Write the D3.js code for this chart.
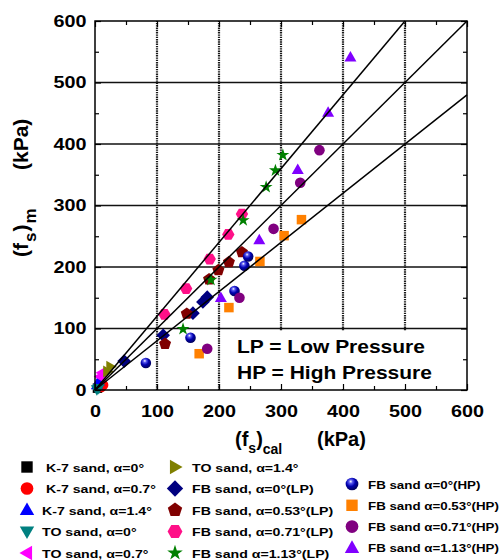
<!DOCTYPE html>
<html><head><meta charset="utf-8">
<script src="https://cdn.jsdelivr.net/npm/d3@7"></script>
<style>
body{margin:0;background:#fff}
text{font-family:"Liberation Sans",Arial,Helvetica,sans-serif;font-weight:bold;fill:#000}
</style>
</head><body>
<svg id="chart" width="504" height="560"></svg>
<script>
// ---------- data ----------
const axisTicks = [0, 100, 200, 300, 400, 500, 600];
const minorTicks = [50, 150, 250, 350, 450, 550];
const gridTicks = [100, 200, 300, 400, 500];
const lineSlopes = [1.2, 1.0, 0.8];

const k7_a0   = [[4, 3]];
const k7_a07  = [[10, 5], [13, 8]];
const k7_a14  = [[3, 8], [6, 14]];
const to_a0   = [[3, 1], [6, 3]];
const to_a07  = [[8, 22], [11, 28]];
const to_a14  = [[20, 30], [25, 38]];
const fbLP_a0   = [[47, 47], [110, 89], [158, 125], [174, 143], [181, 151]];
const fbLP_a053 = [[113, 75], [148, 124], [184, 180], [199, 195], [216, 208], [237, 224]];
const fbLP_a071 = [[112, 123], [147, 165], [185, 213], [215, 253], [237, 286]];
const fbLP_a113 = [[142, 99], [187, 179], [239, 276], [276, 330], [291, 357], [303, 382]];
const fbHP_a0   = [[82, 44], [154, 85], [225, 161], [241, 202], [247, 217]];
const fbHP_a053 = [[168, 59], [216, 134], [266, 209], [305, 251], [333, 277]];
const fbHP_a071 = [[181, 67], [233, 150], [288, 262], [331, 337], [362, 390]];
const fbHP_a113 = [[203, 150], [265, 244], [327, 358], [376, 451], [412, 541]];

const seriesLabels = [
  "K-7 sand, α=0°", "K-7 sand, α=0.7°", "K-7 sand, α=1.4°", "TO sand, α=0°", "TO sand, α=0.7°",
  "TO sand, α=1.4°", "FB sand, α=0°(LP)", "FB sand, α=0.53°(LP)", "FB sand, α=0.71°(LP)", "FB sand α=1.13°(LP)",
  "FB sand α=0°(HP)", "FB sand α=0.53°(HP)", "FB sand α=0.71°(HP)", "FB sand α=1.13°(HP)"
];
const seriesData = [k7_a0, k7_a07, k7_a14, to_a0, to_a07, to_a14,
  fbLP_a0, fbLP_a053, fbLP_a071, fbLP_a113, fbHP_a0, fbHP_a053, fbHP_a071, fbHP_a113];
const seriesShapes = ["square", "circle", "triUp", "triDown", "triLeft", "triRight",
  "diamond", "pentagon", "hexagon", "star", "sphere", "square", "circle", "triUp"];
const seriesColors = ["#000000", "#ff0000", "#0000ff", "#008080", "#ff00ff", "#808000",
  "#000080", "#800000", "#ff1088", "#008000", "#0000a0", "#ff8000", "#800080", "#8000ff"];

const notes = ["LP = Low Pressure", "HP = High Pressure"];

// ---------- layout ----------
const svg = d3.select("#chart");
const X0 = 95, X1 = 467, Y0 = 390, Y1 = 21;
const x = d3.scaleLinear().domain([0, 600]).range([X0, X1]);
const y = d3.scaleLinear().domain([0, 600]).range([Y0, Y1]);
const SX = 1.2; // horizontal text stretch of the original

function txt(parent, px, py, s, size, anchor = "start", sx = SX) {
  return parent.append("text")
    .attr("transform", `translate(${px},${py}) scale(${sx},1)`)
    .attr("font-size", size).attr("text-anchor", anchor).text(s);
}

const defs = svg.append("defs");
const grad = defs.append("radialGradient").attr("id", "sph")
  .attr("cx", "0.4").attr("cy", "0.35").attr("r", "0.65").attr("fx", "0.4").attr("fy", "0.3");
grad.append("stop").attr("offset", "0").attr("stop-color", "#ffffff");
grad.append("stop").attr("offset", "0.22").attr("stop-color", "#5a5af0");
grad.append("stop").attr("offset", "0.55").attr("stop-color", "#0000b0");
grad.append("stop").attr("offset", "1").attr("stop-color", "#00005a");

// grid
const grid = svg.append("g");
grid.selectAll("line.h").data(gridTicks).join("line")
  .attr("x1", X0).attr("x2", X1).attr("y1", d => y(d)).attr("y2", d => y(d))
  .attr("stroke", "#111").attr("stroke-width", 1.3);
grid.selectAll("line.v").data(gridTicks).join("line")
  .attr("y1", Y0).attr("y2", Y1).attr("x1", d => x(d)).attr("x2", d => x(d))
  .attr("stroke", "#1a1a1a").attr("stroke-width", 2.2).attr("stroke-dasharray", "1.4,0.9");

// annotation box
svg.append("rect").attr("x", 224).attr("y", 331).attr("width", X1 - 224 - 1).attr("height", Y0 - 331 - 1)
  .attr("fill", "#fff");
notes.forEach((n, i) => txt(svg, 237, 353 + i * 26, n, 17.5));

// marker shapes
function poly(pts) { return "M" + pts.map(p => p[0].toFixed(2) + "," + p[1].toFixed(2)).join("L") + "Z"; }
function regular(n, r, rot) {
  const pts = [];
  for (let i = 0; i < n; i++) { const a = rot + i * 2 * Math.PI / n; pts.push([r * Math.cos(a), r * Math.sin(a)]); }
  return poly(pts);
}
function shapePath(type, s) {
  const w = 12 * s, h = 10.5 * s;
  switch (type) {
    case "square": return d3.symbol(d3.symbolSquare, Math.pow(9.5 * s, 2))();
    case "circle": case "sphere": return d3.symbol(d3.symbolCircle, Math.PI * Math.pow(5.3 * s, 2))();
    case "triUp": return poly([[0, -h * 0.6], [w / 2, h * 0.4], [-w / 2, h * 0.4]]);
    case "triDown": return poly([[0, h * 0.6], [w / 2, -h * 0.4], [-w / 2, -h * 0.4]]);
    case "triLeft": return poly([[-h * 0.6, 0], [h * 0.4, -w / 2], [h * 0.4, w / 2]]);
    case "triRight": return poly([[h * 0.6, 0], [-h * 0.4, -w / 2], [-h * 0.4, w / 2]]);
    case "diamond": return poly([[0, -6.8 * s], [6.8 * s, 0], [0, 6.8 * s], [-6.8 * s, 0]]);
    case "pentagon": return regular(5, 6.3 * s, -Math.PI / 2);
    case "hexagon": return regular(6, 6.2 * s, 0);
    case "star": return d3.symbol(d3.symbolStar, 52 * s * s)();
  }
}
function fillOf(i) { return seriesShapes[i] === "sphere" ? "url(#sph)" : seriesColors[i]; }

// points
const marks = svg.append("g");
seriesData.forEach((data, i) => {
  marks.append("g").selectAll("path").data(data).join("path")
    .attr("transform", d => `translate(${x(d[0])},${y(d[1])})`)
    .attr("d", shapePath(seriesShapes[i], 1))
    .attr("fill", fillOf(i));
});

// 1:1.2, 1:1, 1:0.8 lines
const lineGen = d3.line().x(d => x(d[0])).y(d => y(d[1]));
svg.append("g").selectAll("path").data(lineSlopes).join("path")
  .attr("d", k => { const xe = Math.min(600, 600 / k); return lineGen([[0, 0], [xe, k * xe]]); })
  .attr("fill", "none").attr("stroke", "#000").attr("stroke-width", 1.5);

// axes (ticks inward on all four sides)
function styleAxis(g) { g.select(".domain").remove(); g.selectAll("line").attr("stroke", "#000").attr("stroke-width", 1.2); }
svg.append("g").attr("transform", `translate(0,${Y0})`)
  .call(d3.axisBottom(x).tickValues(axisTicks).tickSizeInner(-6).tickSizeOuter(0).tickPadding(15).tickFormat(d3.format("d")))
  .call(styleAxis)
  .call(g => g.selectAll("text").attr("font-size", 16.5).attr("font-family", null).attr("transform", `scale(${SX},1)`).attr("fill", "#000"));
svg.append("g").attr("transform", `translate(${X0},0)`)
  .call(d3.axisLeft(y).tickValues(axisTicks).tickSizeInner(-6).tickSizeOuter(0).tickPadding(7).tickFormat(d3.format("d")))
  .call(styleAxis)
  .call(g => g.selectAll("text").attr("font-size", 16.5).attr("font-family", null).attr("transform", `scale(${SX},1)`).attr("fill", "#000"));
svg.append("g").attr("transform", `translate(0,${Y1})`)
  .call(d3.axisTop(x).tickValues(axisTicks).tickSizeInner(-6).tickSizeOuter(0).tickFormat("")).call(styleAxis);
svg.append("g").attr("transform", `translate(${X1},0)`)
  .call(d3.axisRight(y).tickValues(axisTicks).tickSizeInner(-6).tickSizeOuter(0).tickFormat("")).call(styleAxis);
// minor ticks
svg.append("g").attr("transform", `translate(0,${Y0})`)
  .call(d3.axisBottom(x).tickValues(minorTicks).tickSizeInner(-4).tickSizeOuter(0).tickFormat("")).call(styleAxis);
svg.append("g").attr("transform", `translate(0,${Y1})`)
  .call(d3.axisTop(x).tickValues(minorTicks).tickSizeInner(-4).tickSizeOuter(0).tickFormat("")).call(styleAxis);
svg.append("g").attr("transform", `translate(${X0},0)`)
  .call(d3.axisLeft(y).tickValues(minorTicks).tickSizeInner(-4).tickSizeOuter(0).tickFormat("")).call(styleAxis);
svg.append("g").attr("transform", `translate(${X1},0)`)
  .call(d3.axisRight(y).tickValues(minorTicks).tickSizeInner(-4).tickSizeOuter(0).tickFormat("")).call(styleAxis);

// frame
svg.append("rect").attr("x", X0).attr("y", Y1).attr("width", X1 - X0).attr("height", Y0 - Y1)
  .attr("fill", "none").attr("stroke", "#000").attr("stroke-width", 1.5);

// x title
const xt = svg.append("text").attr("x", 235).attr("y", 446).attr("font-size", 20);
xt.append("tspan").text("(f");
xt.append("tspan").attr("font-size", 14).attr("dy", 7).text("s");
xt.append("tspan").attr("dy", -7).text(")");
xt.append("tspan").attr("font-size", 14).attr("dy", 8).text("cal");
svg.append("text").attr("x", 317).attr("y", 446).attr("font-size", 20).text("(kPa)");

// y title
const yt = svg.append("text").attr("transform", "translate(27.5,257) rotate(-90)").attr("font-size", 21);
yt.append("tspan").text("(f");
yt.append("tspan").attr("font-size", 17).attr("dy", 8).attr("dx", 1).text("s");
yt.append("tspan").attr("dy", -8).attr("dx", 1).text(")");
yt.append("tspan").attr("font-size", 17).attr("dy", 8).attr("dx", 1).text("m");
svg.append("text").attr("transform", "translate(27.5,170) rotate(-90)").attr("font-size", 21).text("(kPa)");

// legend
const leg = svg.append("g");
seriesLabels.forEach((lab, i) => {
  let mx, tx, cy, fs = 11.8, sx = SX;
  if (i < 5) { mx = 27; tx = i < 2 ? 46 : 42; cy = 467 + i * 21.5; }
  else if (i < 10) { mx = 175; tx = 192; cy = 467 + (i - 5) * 21.5; }
  else { mx = 352; tx = 368; cy = 484 + (i - 10) * 21.3; fs = 11.5; sx = 1.16; }
  leg.append("path").attr("transform", `translate(${mx},${cy})`)
    .attr("d", shapePath(seriesShapes[i], 1.2)).attr("fill", fillOf(i));
  txt(leg, tx, cy + 4.5, lab, fs, "start", sx);
});
</script>
</body></html>
